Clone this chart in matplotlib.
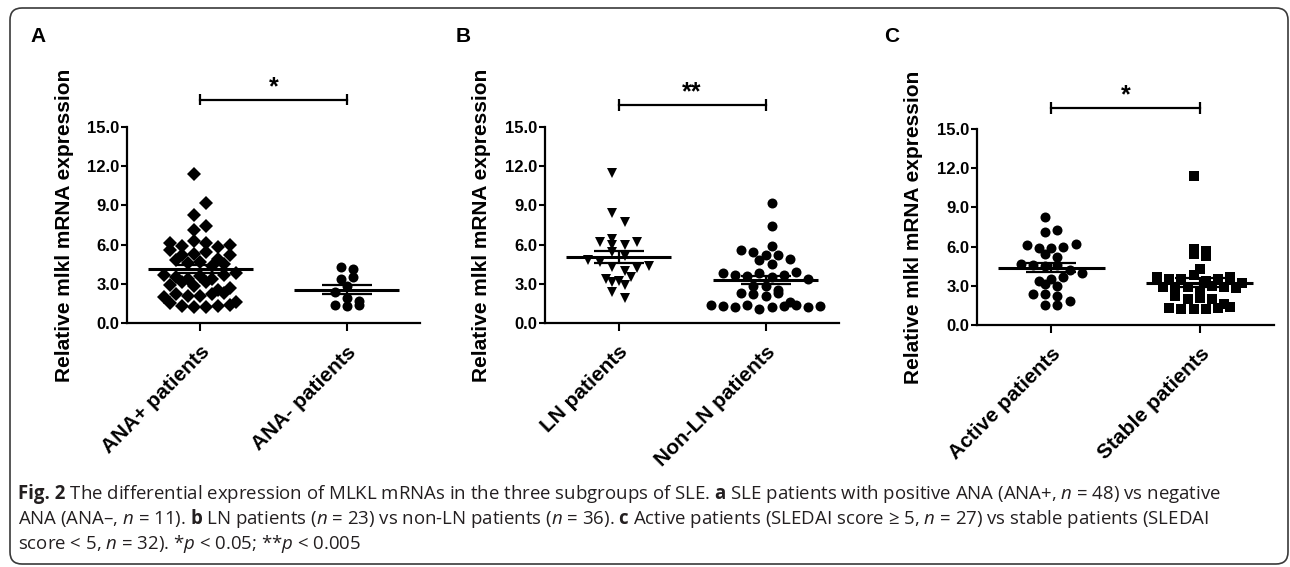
import matplotlib as mpl
mpl.use('Agg')

import numpy as np
import matplotlib.pyplot as plt
from matplotlib.patches import FancyBboxPatch

plt.rcParams['font.family'] = ['Liberation Sans', 'DejaVu Sans']
plt.rcParams['mathtext.fontset'] = 'custom'
plt.rcParams['mathtext.rm'] = 'Open Sans'
plt.rcParams['mathtext.it'] = 'Open Sans:italic'
plt.rcParams['mathtext.bf'] = 'Open Sans:bold'

# --- data ---
ana_pos = [11.4, 9.2, 8.3, 7.4, 7.1,
           6.1, 5.9, 6.3, 6.1, 5.8, 6.0, 5.6,
           5.2, 5.3, 5.4, 4.9, 5.2, 4.8,
           4.6, 4.7, 4.4, 4.5,
           3.7, 3.5, 3.4, 3.6, 3.4, 3.7, 3.8,
           2.9, 3.1, 2.8, 3.1, 2.5, 2.7,
           2.0, 2.2, 2.1, 2.1, 2.2, 2.3,
           1.5, 1.3, 1.2, 1.2, 1.3, 1.4, 1.6]
ana_neg = [4.3, 4.1, 3.4, 3.5, 2.8, 2.4, 1.9, 1.4, 1.3, 1.4, 1.7]

ln = [11.5, 8.4, 7.7, 6.4, 6.2, 6.0, 6.0, 6.2, 5.4, 5.1, 4.8, 4.7,
      4.3, 4.0, 4.2, 4.4, 3.4, 3.1, 2.9, 3.2, 3.5, 2.4, 1.9]
non_ln = [9.2, 7.4, 5.9, 5.6, 5.4, 5.2, 5.2, 4.9, 4.8, 4.5,
          3.8, 3.7, 3.6, 3.8, 3.5, 3.7, 3.9, 3.4,
          2.8, 2.8, 2.3, 2.2, 2.1, 2.3, 2.5,
          1.4, 1.3, 1.2, 1.4, 1.1, 1.2, 1.3, 1.4, 1.6, 1.2, 1.3]

active = [8.3, 7.3, 7.1, 6.1, 5.9, 5.9, 6.0, 6.2, 5.4, 5.2,
          4.7, 4.6, 4.5, 4.6, 4.2, 4.0,
          3.4, 3.5, 3.7, 3.1, 3.0, 2.4, 2.4, 2.2, 1.8, 1.5, 1.5]
stable = [11.4, 5.8, 5.4, 5.7, 5.3, 4.3,
          3.7, 3.5, 3.5, 3.8, 3.4, 3.5, 3.7, 3.2,
          2.9, 2.7, 2.9, 2.6, 3.0, 2.9, 2.8,
          2.2, 2.0, 2.1, 2.0,
          1.6, 1.3, 1.2, 1.2, 1.2, 1.3, 1.4]

panels = [
    ('A', ['ANA+ patients', 'ANA- patients'], [ana_pos, ana_neg], ['D', 'o'], '*', 17.1),
    ('B', ['LN patients', 'Non-LN patients'], [ln, non_ln], ['v', 'o'], '**', 16.7),
    ('C', ['Active patients', 'Stable patients'], [active, stable], ['o', 's'], '*', 16.6),
]

W, H = 1290, 567
# axes boxes in pixels: left, right, top, bottom
boxes = [(127, 420, 127, 323), (545, 839, 127, 323), (977, 1274, 129, 325)]
letter_pos = [(38, 37), (463, 37), (892, 36)]
msize = {'D': 7.5, 'o': 7.2, 'v': 7.5, 's': 6.6}


def swarm(vals, center, h=0.8, d=0.082):
    vals = np.asarray(vals, dtype=float)
    bins = np.floor(vals / h)
    xs = np.zeros_like(vals)
    for b in np.unique(bins):
        idx = np.where(bins == b)[0]
        n = len(idx)
        if n == 1 and b > 6:
            # lone high values: nudge alternately like the GraphPad layout
            xs[idx] = center + (d / 2 if int(b) % 2 else -d / 2)
            continue
        xs[idx] = center + (np.arange(n) - (n - 1) / 2) * d
    return xs


fig = plt.figure(figsize=(W / 100, H / 100), dpi=100)

for (letter, labels, groups, markers, stars, bar_y), (l, r, t, b), lp in zip(panels, boxes, letter_pos):
    ax = fig.add_axes([l / W, 1 - b / H, (r - l) / W, (b - t) / H])
    for i, (vals, m) in enumerate(zip(groups, markers)):
        xs = swarm(vals, i)
        ax.plot(xs, vals, ls='none', marker=m, ms=msize[m], color='black', mew=0)
        mean = np.mean(vals)
        sem = np.std(vals, ddof=1) / np.sqrt(len(vals))
        ax.hlines(mean, i - 0.36, i + 0.36, color='black', lw=2.2)
        ax.errorbar(i, mean, yerr=sem, fmt='none', ecolor='black', elinewidth=1.6,
                    capsize=18, capthick=1.6)

    ax.set_xlim(-0.5, 1.5)
    ax.set_ylim(0, 15)
    ax.set_yticks(np.arange(0, 15.1, 3))
    ax.set_yticklabels(['%.1f' % v for v in np.arange(0, 15.1, 3)], fontsize=12, fontweight='bold')
    ax.set_xticks([0, 1])
    ax.set_xticklabels(labels, rotation=45, ha='right', rotation_mode='anchor',
                       fontsize=15, fontweight='bold')
    ax.tick_params(axis='y', length=4.5, width=1.5, pad=1)
    ax.tick_params(axis='x', length=6, width=1.5, pad=8)
    for s in ['top', 'right']:
        ax.spines[s].set_visible(False)
    for s in ['left', 'bottom']:
        ax.spines[s].set_linewidth(1.6)
    ax.set_ylabel('Relative mlkl mRNA expression', fontsize=15, fontweight='bold')
    ax.yaxis.set_label_coords(-0.182, 0.5)

    # significance bar
    ax.plot([0, 1], [bar_y, bar_y], color='black', lw=1.6, clip_on=False)
    ax.vlines([0, 1], bar_y - 0.45, bar_y + 0.45, color='black', lw=1.6, clip_on=False)
    ax.text(0.5, bar_y + 0.05, stars, ha='center', va='bottom', fontsize=18,
            fontweight='bold', clip_on=False)

    fig.text(lp[0] / W, 1 - lp[1] / H, letter, ha='center', va='center',
             fontsize=15, fontweight='bold')

# rounded frame
frame = FancyBboxPatch((0.1 + 0.12, 0.03 + 0.12), 12.78 - 0.24, 5.56 - 0.24,
                       boxstyle='round,pad=0.12', transform=fig.dpi_scale_trans,
                       fill=False, edgecolor='#3a3a3a', lw=1.2)
fig.add_artist(frame)

cap_font = dict(fontsize=13.4, family=['Open Sans', 'DejaVu Sans'], color='#231f20')
caption = [
    r' The differential expression of MLKL mRNAs in the three subgroups of SLE. '
    r'$\mathbf{a}$ SLE patients with positive ANA (ANA+, $n$ = 48) vs negative',
    r'ANA (ANA–, $n$ = 11). $\mathbf{b}$ LN patients ($n$ = 23) vs non-LN patients ($n$ = 36). '
    r'$\mathbf{c}$ Active patients (SLEDAI score ≥ 5, $n$ = 27) vs stable patients (SLEDAI',
    r'score < 5, $n$ = 32). *$p$ < 0.05; **$p$ < 0.005',
]
base = [499, 524, 549]
head = fig.text(18 / W, 1 - base[0] / H, 'Fig. 2', ha='left', va='baseline',
                fontweight='bold', **cap_font)
renderer = fig.canvas.get_renderer()
head_right = head.get_window_extent(renderer).x1 / W
fig.text(head_right, 1 - base[0] / H, caption[0], ha='left', va='baseline', **cap_font)
for k in (1, 2):
    fig.text(18 / W, 1 - base[k] / H, caption[k], ha='left', va='baseline', **cap_font)

fig.savefig('out.png', dpi=100)
